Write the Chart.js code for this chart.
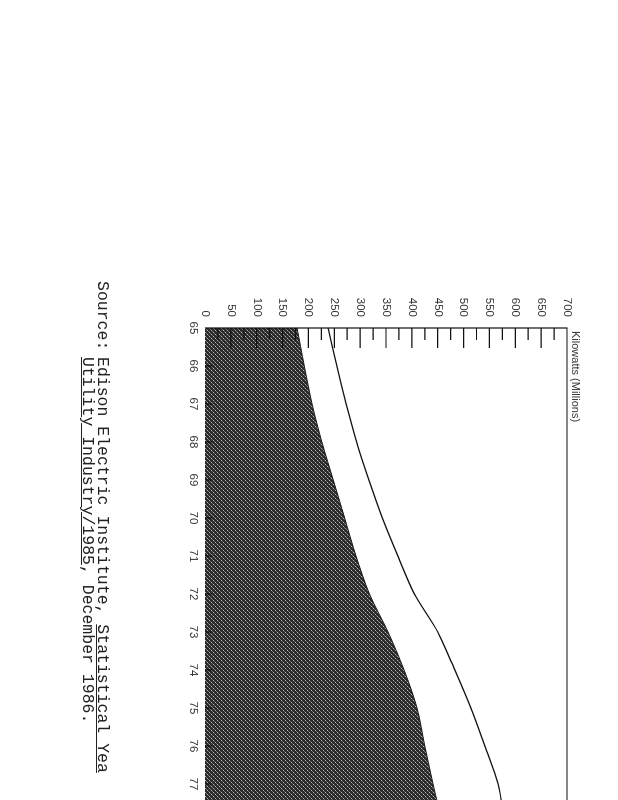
<!DOCTYPE html>
<html>
<head>
<meta charset="utf-8">
<script src="https://cdn.jsdelivr.net/npm/chart.js@4.4.1/dist/chart.umd.min.js"></script>
<style>
  html, body { margin: 0; padding: 0; background: #fff; overflow: hidden; }
  /* the scanned page is turned a quarter turn clockwise, so draw it upright and rotate */
  #page {
    position: absolute; left: 0; top: 0;
    width: 800px; height: 618px; overflow: hidden;
    transform-origin: 0 0;
    transform: translate(618px, 0) rotate(90deg);
  }
  #chart { position: absolute; left: 0; top: 0; }
  .axis-title {
    position: absolute; left: 331px; top: 36px;
    font: 11px "Liberation Sans", Arial, sans-serif; color: #333;
    white-space: nowrap;
  }
  .source {
    position: absolute; top: 508px;
    font: 16.5px "Liberation Mono", "Courier New", monospace; color: #222;
    white-space: pre; line-height: 15px;
  }
</style>
</head>
<body>
<div id="page">
  <canvas id="chart" width="900" height="618"></canvas>
  <div class="axis-title">Kilowatts (Millions)</div>
  <div class="source" style="left:281px">Source:</div>
  <div class="source" style="left:357px">Edison Electric Institute, <u>Statistical Yea</u>
<u>Utility Industry/1985</u>, December 1986.</div>
</div>
<script>
/* global document, Chart */

// Years (19xx) and values in millions of kilowatts
let years = [65, 66, 67, 68, 69, 70, 71, 72, 73, 74, 75, 76, 77, 78];
let peakLoad = [178, 192, 207, 226, 248, 270, 292, 318, 354, 385, 410, 425, 441, 458];
let capacity = [238, 255, 273, 293, 317, 343, 373, 405, 450, 483, 514, 541, 567, 579];

let valueMin = 0;
let valueMax = 700;
let valueStep = 50;

Chart.defaults.font.family = '"Liberation Sans", Arial, sans-serif';
Chart.defaults.font.size = 11.5;
Chart.defaults.color = '#333';

// dotted halftone like the photocopy shading
function halftone(ctx) {
    let c = document.createElement('canvas');
    c.width = 4;
    c.height = 4;
    let g = c.getContext('2d');
    g.fillStyle = '#2a2a2a';
    g.fillRect(0, 0, 4, 4);
    g.fillStyle = '#b4b4b4';
    g.fillRect(0, 0, 1, 1);
    g.fillRect(2, 2, 1, 1);
    g.fillStyle = '#6e6e6e';
    g.fillRect(1, 3, 1, 1);
    g.fillRect(3, 1, 1, 1);
    return ctx.createPattern(c, 'repeat');
}

// frame and inward tick marks
let frame = {
    id: 'frame',
    afterDatasetsDraw(chart) {
        let ctx = chart.ctx;
        let a = chart.chartArea;
        let x = chart.scales.x;
        let y = chart.scales.y;
        ctx.save();
        ctx.strokeStyle = '#111';
        ctx.lineWidth = 1.2;
        ctx.beginPath();
        ctx.moveTo(a.left, a.bottom);
        ctx.lineTo(a.left, a.top);
        ctx.lineTo(a.right, a.top);
        for (let v = valueMin + valueStep / 2; v < valueMax; v += valueStep / 2) {
            let py = y.getPixelForValue(v);
            ctx.moveTo(a.left, py);
            ctx.lineTo(a.left + (v % valueStep === 0 ? 20 : 12), py);
        }
        for (let i = 0; i < years.length; i++) {
            let px = x.getPixelForValue(years[i]);
            ctx.moveTo(px, a.bottom);
            ctx.lineTo(px, a.bottom - 7);
        }
        ctx.stroke();
        ctx.restore();
    }
};

let canvas = document.getElementById('chart');

new Chart(canvas, {
    type: 'line',
    data: {
        datasets: [
            {
                label: 'Capacity',
                data: years.map((yr, i) => ({ x: yr, y: capacity[i] })),
                borderColor: '#111',
                borderWidth: 1.3,
                pointRadius: 0,
                fill: false,
                tension: 0.3
            },
            {
                label: 'Peak load',
                data: years.map((yr, i) => ({ x: yr, y: peakLoad[i] })),
                borderColor: '#1a1a1a',
                borderWidth: 1,
                backgroundColor: halftone(canvas.getContext('2d')),
                pointRadius: 0,
                fill: 'origin',
                tension: 0.3
            }
        ]
    },
    options: {
        responsive: false,
        animation: false,
        events: [],
        layout: { padding: { left: 0, right: 78, top: 51, bottom: 175 } },
        plugins: {
            legend: { display: false },
            tooltip: { enabled: false }
        },
        scales: {
            x: {
                type: 'linear',
                min: years[0],
                max: years[years.length - 1],
                grid: { display: false, drawTicks: false },
                border: { display: false },
                ticks: { stepSize: 1, padding: 5, callback: v => String(v) },
                afterFit: s => { s.height = 30; }
            },
            y: {
                min: valueMin,
                max: valueMax,
                grid: { display: false, drawTicks: false },
                border: { display: false },
                ticks: { stepSize: valueStep, padding: 11 },
                afterFit: s => { s.width = 328; }
            }
        }
    },
    plugins: [frame]
});
</script>
</body>
</html>
